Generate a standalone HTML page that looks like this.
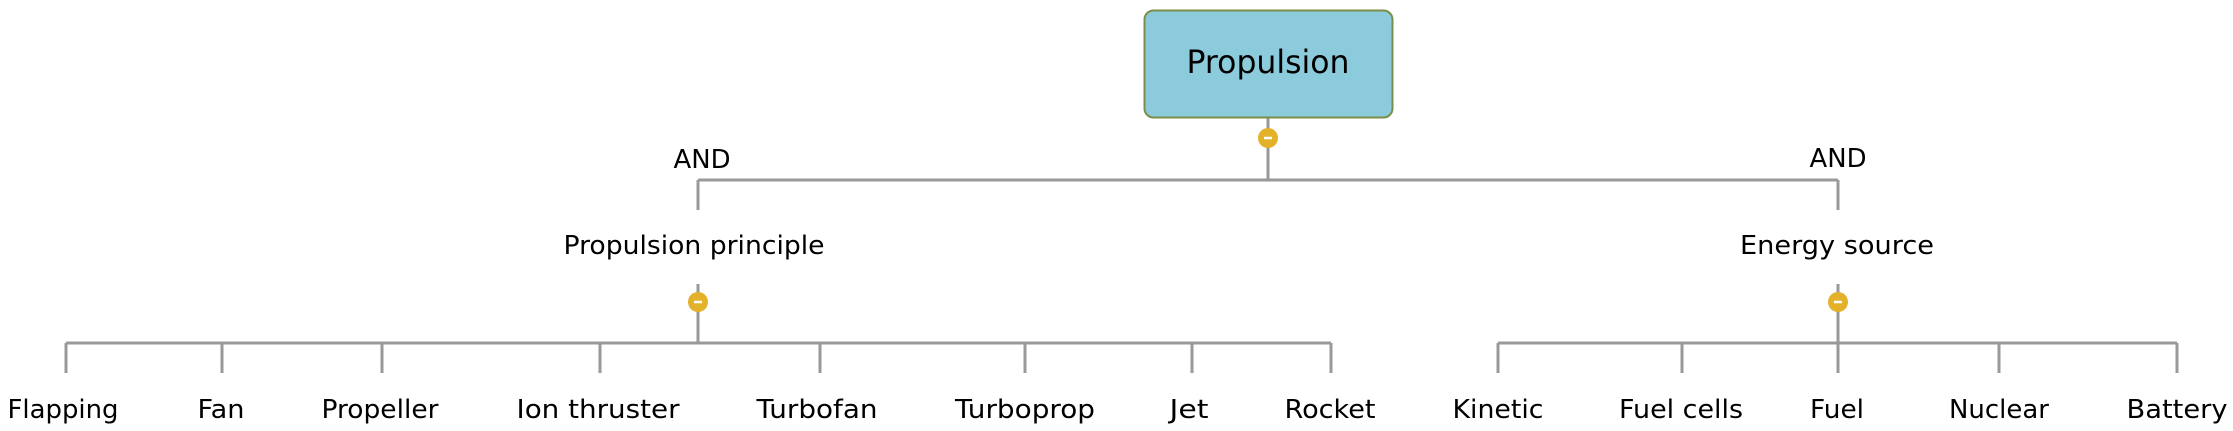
<!DOCTYPE html>
<html><head><meta charset="utf-8"><style>
html,body{margin:0;padding:0;background:#fff}
text{font-family:"DejaVu Sans","Liberation Sans",sans-serif;fill:#000}
</style></head><body>
<svg width="2233" height="426" viewBox="0 0 2233 426" xmlns="http://www.w3.org/2000/svg">
<g stroke="#999" stroke-width="3" fill="none">
<line x1="1268" y1="118" x2="1268" y2="180"/>
<line x1="698" y1="180" x2="1838" y2="180"/>
<line x1="698" y1="180" x2="698" y2="210"/>
<line x1="1838" y1="180" x2="1838" y2="210"/>
<line x1="698" y1="284" x2="698" y2="343"/>
<line x1="1838" y1="284" x2="1838" y2="343"/>
<line x1="66" y1="343" x2="1331" y2="343"/>
<line x1="1498" y1="343" x2="2177" y2="343"/>
<line x1="66" y1="343" x2="66" y2="373"/>
<line x1="222" y1="343" x2="222" y2="373"/>
<line x1="382" y1="343" x2="382" y2="373"/>
<line x1="600" y1="343" x2="600" y2="373"/>
<line x1="820" y1="343" x2="820" y2="373"/>
<line x1="1025" y1="343" x2="1025" y2="373"/>
<line x1="1192" y1="343" x2="1192" y2="373"/>
<line x1="1331" y1="343" x2="1331" y2="373"/>
<line x1="1498" y1="343" x2="1498" y2="373"/>
<line x1="1682" y1="343" x2="1682" y2="373"/>
<line x1="1838" y1="343" x2="1838" y2="373"/>
<line x1="1999" y1="343" x2="1999" y2="373"/>
<line x1="2177" y1="343" x2="2177" y2="373"/>
</g>
<rect x="1144.5" y="10.5" width="248" height="107" rx="9" fill="#8ccbdc" stroke="#7a8f4a" stroke-width="2"/>
<text x="1268" y="73" font-size="32" text-anchor="middle" textLength="163" lengthAdjust="spacingAndGlyphs">Propulsion</text>
<g fill="#e3b12a"><circle cx="1268" cy="138" r="10"/><circle cx="698" cy="302" r="10"/><circle cx="1838" cy="302" r="10"/></g>
<g stroke="#fff" stroke-width="2.5"><line x1="1264" y1="138" x2="1272" y2="138"/><line x1="694" y1="302" x2="702" y2="302"/><line x1="1834" y1="302" x2="1842" y2="302"/></g>
<g font-size="26" text-anchor="middle">
<text x="702" y="168" textLength="57" lengthAdjust="spacingAndGlyphs">AND</text>
<text x="1838" y="167" textLength="57" lengthAdjust="spacingAndGlyphs">AND</text>
<text x="694" y="254" textLength="261" lengthAdjust="spacingAndGlyphs">Propulsion principle</text>
<text x="1837" y="254" textLength="194" lengthAdjust="spacingAndGlyphs">Energy source</text>
<text x="63" y="418" textLength="111" lengthAdjust="spacingAndGlyphs">Flapping</text>
<text x="221" y="418" textLength="47" lengthAdjust="spacingAndGlyphs">Fan</text>
<text x="380" y="418" textLength="117" lengthAdjust="spacingAndGlyphs">Propeller</text>
<text x="598" y="418" textLength="163" lengthAdjust="spacingAndGlyphs">Ion thruster</text>
<text x="817" y="418" textLength="121" lengthAdjust="spacingAndGlyphs">Turbofan</text>
<text x="1025" y="418" textLength="140" lengthAdjust="spacingAndGlyphs">Turboprop</text>
<text x="1189" y="418" textLength="39" lengthAdjust="spacingAndGlyphs">Jet</text>
<text x="1330" y="418" textLength="91" lengthAdjust="spacingAndGlyphs">Rocket</text>
<text x="1498" y="418" textLength="91" lengthAdjust="spacingAndGlyphs">Kinetic</text>
<text x="1681" y="418" textLength="124" lengthAdjust="spacingAndGlyphs">Fuel cells</text>
<text x="1837" y="418" textLength="54" lengthAdjust="spacingAndGlyphs">Fuel</text>
<text x="1999" y="418" textLength="100" lengthAdjust="spacingAndGlyphs">Nuclear</text>
<text x="2177" y="418" textLength="101" lengthAdjust="spacingAndGlyphs">Battery</text>
</g>
</svg>
</body></html>
